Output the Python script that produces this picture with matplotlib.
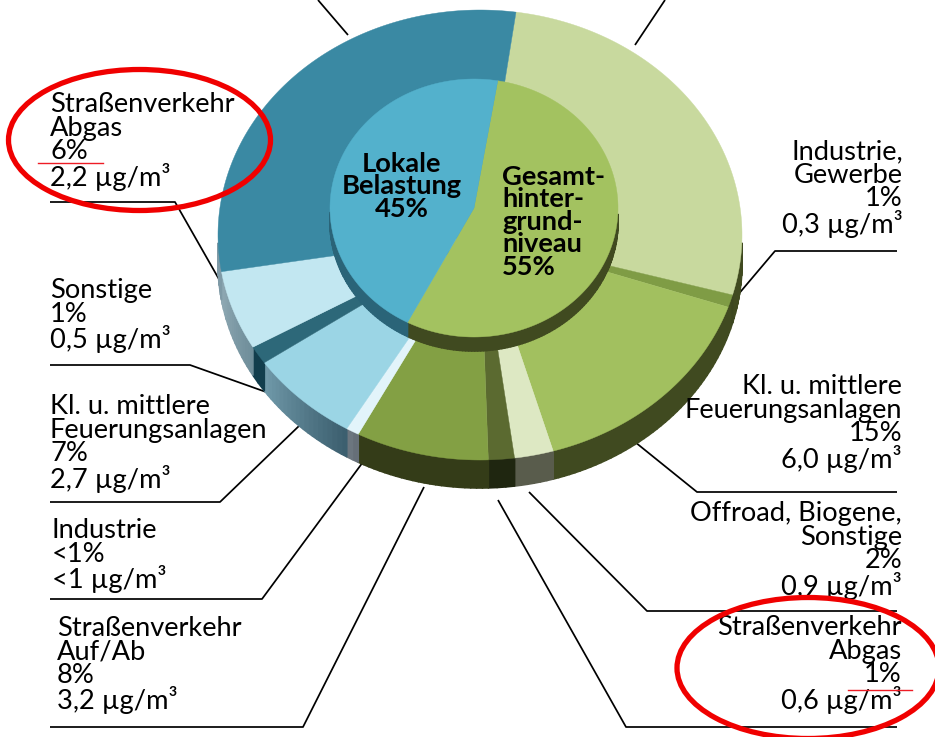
import numpy as np
import matplotlib
matplotlib.use("Agg")
import matplotlib.pyplot as plt
from matplotlib.collections import PolyCollection
from matplotlib.colors import to_rgb
from matplotlib.patches import Ellipse

# --- data ---
outer_values = [27.1, 0.9, 15.3, 2.4, 1.6, 8.2, 0.8, 6.9, 1.3, 5.7, 29.8]
outer_colors = ["#c8d99e", "#7f9c45", "#a2c05f", "#dde8c3", "#5b6a30", "#83a044",
                "#e2f4fa", "#9bd5e5", "#2d6879", "#c2e7f1", "#3a89a3"]
outer_side_start = ["#3c4620", "#3c4620", "#404a20", "#595c4c", "#1f2610", "#343c18",
                    "#666f78", "#3c5f6f", "#123e4d", "#6f8e9a", "#7f9aa6"]
outer_side_end = ["#404a20", "#404a20", "#404a20", "#595c4c", "#1f2610", "#343c18",
                  "#6c767f", "#6f98a8", "#123e4d", "#8ea8b3", "#7f9aa6"]
inner_values = [55, 45]
inner_colors = ["#a3c260", "#53b1cc"]
inner_side = ["#404a20", "#2a6478"]

left_labels = [
    (50, 112, ["Straßenverkehr", "Abgas", "6%", "2,2 µg/m³"]),
    (50, 299, ["Sonstige", "1%", "0,5 µg/m³"]),
    (50, 414, ["Kl. u. mittlere", "Feuerungsanlagen", "7%", "2,7 µg/m³"]),
    (52, 539, ["Industrie", "<1%", "<1 µg/m³"]),
    (57, 636, ["Straßenverkehr", "Auf/Ab", "8%", "3,2 µg/m³"]),
]
right_labels = [
    (903, 159, ["Industrie,", "Gewerbe", "1%", "0,3 µg/m³"]),
    (902, 394, ["Kl. u. mittlere", "Feuerungsanlagen", "15%", "6,0 µg/m³"]),
    (902, 521, ["Offroad, Biogene,", "Sonstige", "2%", "0,9 µg/m³"]),
    (902, 635, ["Straßenverkehr", "Abgas", "1%", "0,6 µg/m³"]),
]
center_left = ["Lokale", "Belastung", "45%"]
center_right = ["Gesamt-", "hinter-", "grund-", "niveau", "55%"]
leaders = [
    [(318, 0), (348, 35)],
    [(665, 0), (635, 45)],
    [(50, 202), (175, 202), (224, 288)],
    [(50, 365), (190, 365), (266, 392)],
    [(50, 502), (220, 502), (300, 425)],
    [(50, 599), (262, 599), (363, 462)],
    [(50, 727), (303, 727), (424, 487)],
    [(897, 727), (626, 727), (498, 500)],
    [(897, 611), (647, 611), (529, 492)],
    [(897, 492), (697, 492), (635, 442)],
    [(897, 251), (775, 251), (731, 303)],
]

# --- style ---
plt.rcParams["font.family"] = ["Lato", "DejaVu Sans"]
FS = 19.6
PITCH = 24.5
LS = 0.93
OUT = dict(cx=480, cy=235, a=262, b=225, depth=28, start=7.9)
INN = dict(cx=474, cy=208, a=144, b=129, depth=14, start=9.5)

fig = plt.figure(figsize=(9.35, 7.37), dpi=100)
ax = fig.add_axes([0, 0, 1, 1])
ax.set_xlim(0, 935)
ax.set_ylim(737, 0)
ax.axis("off")


def ell(g, th):
    r = np.radians(th)
    return g["cx"] + g["a"] * np.sin(r), g["cy"] - g["b"] * np.cos(r)


def draw_pie(g, values, colors, starts, ends, z):
    edges = g["start"] + np.concatenate([[0], np.cumsum(values)]) * 3.6
    polys, cols = [], []
    for i in range(len(values)):
        th = np.linspace(edges[i], edges[i + 1], max(3, int(values[i] * 3)))
        c0, c1 = np.array(to_rgb(starts[i])), np.array(to_rgb(ends[i]))
        for k in range(len(th) - 1):
            if th[k + 1] < 93 or th[k] > 267:
                continue  # rim faces away from the viewer
            x0, y0 = ell(g, th[k])
            x1, y1 = ell(g, th[k + 1])
            polys.append([(x0, y0), (x1, y1), (x1, y1 + g["depth"]), (x0, y0 + g["depth"])])
            cols.append(c0 + (c1 - c0) * k / max(1, len(th) - 2))
    ax.add_collection(PolyCollection(polys, facecolors=cols, edgecolors=cols,
                                     linewidths=1.2, zorder=z))
    for i in range(len(values)):
        th = np.linspace(edges[i], edges[i + 1], max(4, int(values[i] * 6)))
        x, y = ell(g, th)
        ax.fill(np.r_[g["cx"], x], np.r_[g["cy"], y], color=colors[i], lw=0.3, zorder=z + 1)


def block(x, y0, lines, ha, **kw):
    ax.text(x, y0 + (len(lines) - 1) * PITCH, "\n".join(lines), fontsize=FS, ha=ha,
            multialignment=ha, va="baseline", linespacing=LS, color="black", zorder=6, **kw)


for pts in leaders:
    xs, ys = zip(*pts)
    ax.plot(xs, ys, color="black", lw=1.25, zorder=1, solid_capstyle="butt")

draw_pie(OUT, outer_values, outer_colors, outer_side_start, outer_side_end, 2)
draw_pie(INN, inner_values, inner_colors, inner_side, inner_side, 4)

for x, y0, lines in left_labels:
    block(x, y0, lines, "left")
for x, y0, lines in right_labels:
    block(x, y0, lines, "right")
block(402, 168, center_left, "center", fontweight="bold")
block(502, 177, center_right, "left", fontweight="bold")

ax.add_patch(Ellipse((139.5, 140), 262, 141, fill=False, ec="#f00000", lw=3.8, zorder=7))
ax.add_patch(Ellipse((808, 668), 262, 141, fill=False, ec="#f00000", lw=3.8, zorder=7))
ax.plot([38, 103], [163, 163], color="#ee1c25", lw=1.0, zorder=7)
ax.plot([848, 912], [690, 690], color="#ee1c25", lw=1.0, zorder=7)

fig.savefig("out.png", dpi=100, facecolor="white")
